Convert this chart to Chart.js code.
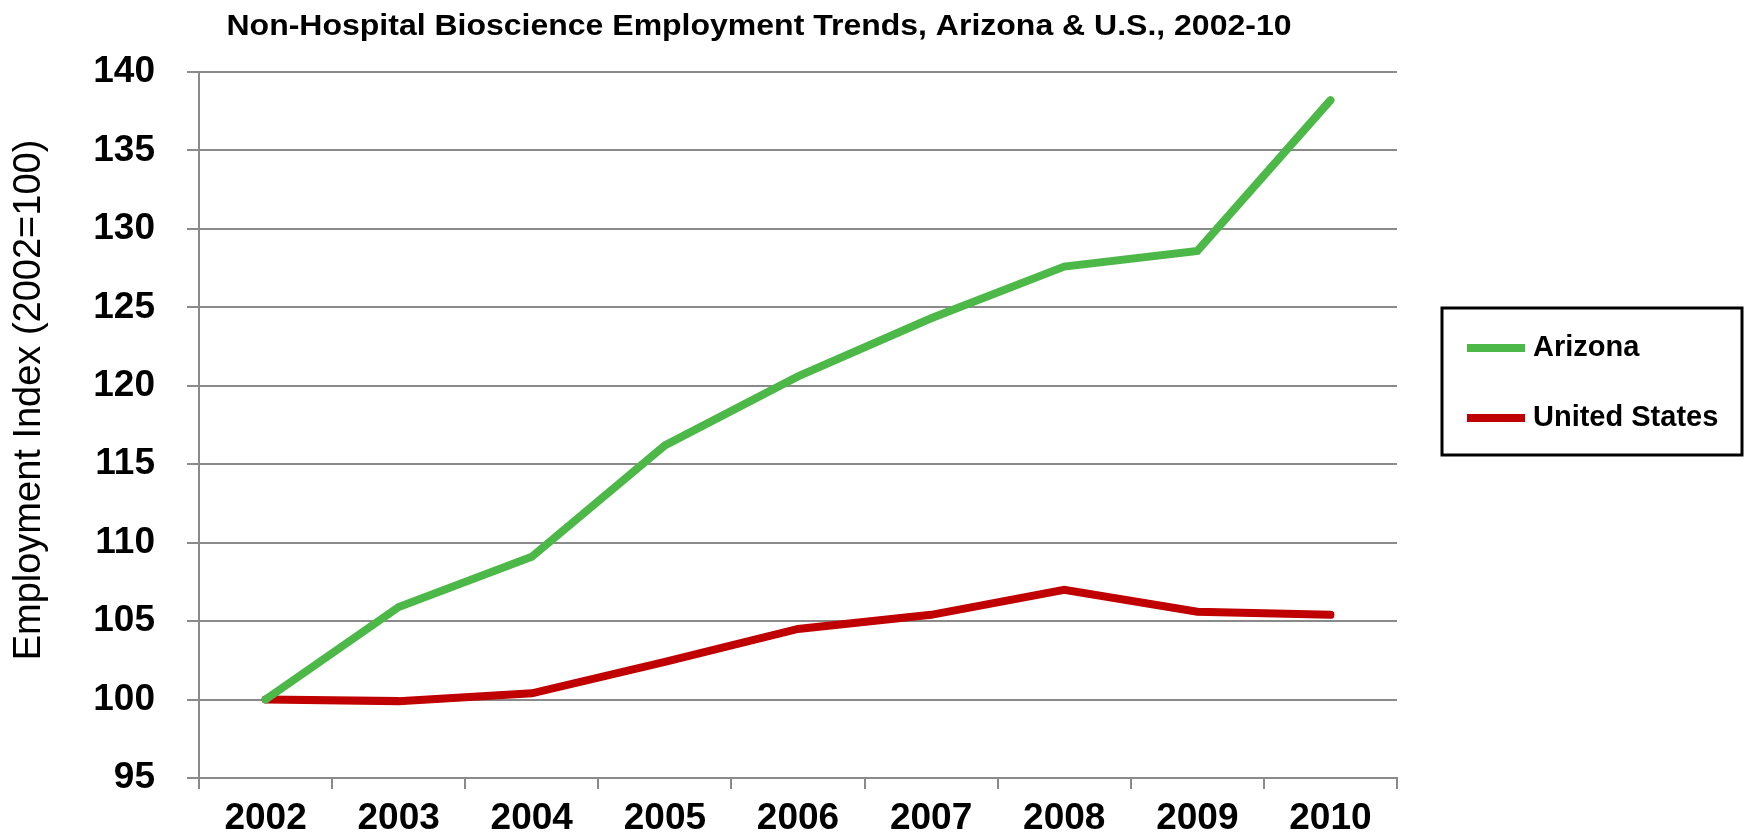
<!DOCTYPE html>
<html lang="en">
<head>
    <meta charset="UTF-8">
    <script src="https://cdn.jsdelivr.net/npm/chart.js"></script>
    <title>Bioscience Employment</title>
    <style>
        body {
            margin: 0;
            background: #fff;
        }
        #wrap {
            width: 1745px;
            height: 840px;
        }
    </style>
</head>
<body>
<div id="wrap">
    <canvas id="empChart" width="1745" height="840"></canvas>
</div>
<script>
    const years = ['2002', '2003', '2004', '2005', '2006', '2007', '2008', '2009', '2010'];
    const arizona = [100, 105.9, 109.1, 116.2, 120.6, 124.3, 127.6, 128.6, 138.2];
    const unitedStates = [100, 99.9, 100.4, 102.4, 104.5, 105.4, 107.0, 105.6, 105.4];
    const yTicks = [95, 100, 105, 110, 115, 120, 125, 130, 135, 140];

    const titleText = 'Non-Hospital Bioscience Employment Trends, Arizona & U.S., 2002-10';
    const yTitleText = 'Employment Index (2002=100)';
    const gridColor = '#8a8a8a';
    const fontFamily = 'Arial, "Liberation Sans", sans-serif';

    // title, y-axis title and the boxed legend are drawn by hand so they sit where we want
    const decorations = {
        id: 'decorations',
        afterDraw(chart) {
            const ctx = chart.ctx;
            ctx.save();
            ctx.fillStyle = '#000';
            ctx.textBaseline = 'middle';

            // chart title, stretched a bit wider than the plain font
            ctx.font = 'bold 30px ' + fontFamily;
            ctx.textAlign = 'center';
            const tw = ctx.measureText(titleText).width;
            ctx.save();
            ctx.translate(759, 27);
            ctx.scale(1065 / tw, 1);
            ctx.fillText(titleText, 0, 0);
            ctx.restore();

            // y-axis title
            ctx.save();
            ctx.font = '38px ' + fontFamily;
            ctx.translate(30, 400);
            ctx.rotate(-Math.PI / 2);
            ctx.fillText(yTitleText, 0, 0);
            ctx.restore();

            // legend box
            ctx.strokeStyle = '#000';
            ctx.lineWidth = 3;
            ctx.strokeRect(1442, 308, 300, 147);
            ctx.font = 'bold 29px ' + fontFamily;
            ctx.textAlign = 'left';
            chart.data.datasets.forEach((ds, i) => {
                const y = 348 + i * 70;
                ctx.fillStyle = ds.borderColor;
                ctx.fillRect(1467, y - 4, 58, 8);
                ctx.fillStyle = '#000';
                ctx.fillText(ds.label, 1533, y);
            });
            ctx.restore();
        }
    };

    const ctx = document.getElementById('empChart').getContext('2d');
    new Chart(ctx, {
        type: 'line',
        data: {
            labels: years,
            datasets: [{
                label: 'Arizona',
                data: arizona,
                borderColor: '#4cb848',
                borderWidth: 8,
                borderCapStyle: 'round',
                pointRadius: 0,
                tension: 0
            }, {
                label: 'United States',
                data: unitedStates,
                borderColor: '#c00000',
                borderWidth: 8,
                borderCapStyle: 'round',
                pointRadius: 0,
                tension: 0
            }]
        },
        options: {
            responsive: false,
            animation: false,
            layout: {
                padding: { top: 72, right: 348, bottom: 0, left: 0 }
            },
            plugins: {
                legend: { display: false },
                title: { display: false },
                tooltip: { enabled: false }
            },
            scales: {
                x: {
                    offset: true,
                    grid: {
                        offset: true,
                        drawOnChartArea: false,
                        drawTicks: true,
                        tickLength: 11,
                        color: gridColor,
                        lineWidth: 2
                    },
                    border: { color: gridColor, width: 2 },
                    ticks: {
                        color: '#000',
                        font: { family: fontFamily, size: 37, weight: 'bold' },
                        padding: 8,
                        maxRotation: 0
                    },
                    afterFit(scale) { scale.height = 62; }
                },
                y: {
                    min: 95,
                    max: 140,
                    afterBuildTicks(scale) {
                        scale.ticks = yTicks.map(v => ({ value: v }));
                    },
                    grid: {
                        color: gridColor,
                        lineWidth: 2,
                        tickLength: 12
                    },
                    border: { color: gridColor, width: 2 },
                    ticks: {
                        color: '#000',
                        font: { family: fontFamily, size: 37, weight: 'bold' },
                        padding: 32
                    },
                    afterFit(scale) { scale.width = 199; }
                }
            }
        },
        plugins: [decorations]
    });
</script>
</body>
</html>
